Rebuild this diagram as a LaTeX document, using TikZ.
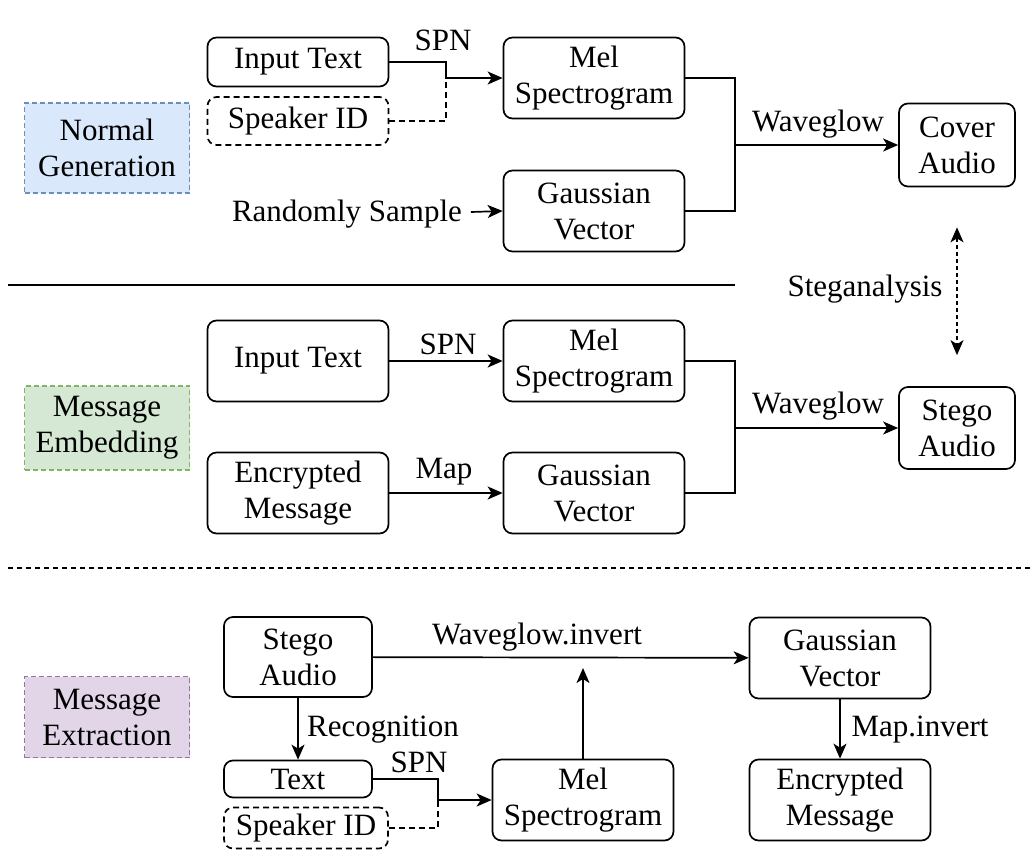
\documentclass[tikz,border=0pt]{standalone}
\usepackage{fontspec}
\setmainfont{Liberation Serif}
\usetikzlibrary{arrows.meta}
\definecolor{genfill}{HTML}{DAE8FC}
\definecolor{gendraw}{HTML}{6C8EBF}
\definecolor{embfill}{HTML}{D5E8D4}
\definecolor{embdraw}{HTML}{82B366}
\definecolor{extfill}{HTML}{E1D5E7}
\definecolor{extdraw}{HTML}{9673A6}

\begin{document}
\begin{tikzpicture}[x=1pt, y=-1pt, line width=1.7pt,
  font=\fontsize{31}{36}\selectfont,
  >={Stealth[length=15pt, width=13pt, inset=4pt]},
  main/.style = {draw, rounded corners=9pt, inner sep=0pt, align=center,
    minimum width=181pt, minimum height=81pt},
  side/.style = {main, dash pattern=on 6pt off 4pt},
  tag/.style = {draw=#1draw, fill=#1fill, line width=1.2pt, dash pattern=on 5pt off 3pt,
    inner sep=0pt, align=center, minimum width=165pt},
  lbl/.style = {inner sep=0pt}]
	\useasboundingbox (0,0) rectangle (1034,860);
	% normal generation
	\node[tag=gen, minimum height=90pt] (NG) at (107,148){Normal\\Generation};
	\node[main, minimum height=49pt] (IT1) at (298,62){Input Text};
	\node[side, minimum height=48pt] (SI1) at (298,121){Speaker ID};
	\node[main] (MS1) at (594,78){Mel\\Spectrogram};
	\node[main] (GV1) at (594,211){Gaussian\\Vector};
	\node[main, minimum width=116pt, minimum height=83pt] (CA) at (957,145){Cover\\Audio};
	\node[lbl] (RS) at (347,214){Randomly Sample};
	\coordinate (J1) at (446,78);
	\coordinate (W1) at (735,145);
	\draw[->] (IT1.east) -| (J1) -- (MS1.west);
	\draw[dash pattern=on 6pt off 4pt] (SI1.east) -| (J1);
	\draw[->] (RS.east) ++(8,-2) -- (GV1.west);
	\draw (MS1.east) -| (W1);
	\draw (GV1.east) -| (W1);
	\draw[->] (W1) -- (CA.west);
	\node[lbl] (SPN1) at (443,40){SPN};
	\node[lbl] (WG1) at (818,124){Waveglow};
	\coordinate (L1) at (8,285);
	\coordinate (L2) at (735,285);
	\draw[line width=1.2pt] (L1) -- (L2);
	% message embedding
	\node[tag=emb, minimum height=84pt] (ME) at (107,428){Message\\Embedding};
	\node[main] (IT2) at (298,361){Input Text};
	\node[main] (EM2) at (298,493){Encrypted\\Message};
	\node[main] (MS2) at (594,361){Mel\\Spectrogram};
	\node[main] (GV2) at (594,493){Gaussian\\Vector};
	\node[main, minimum width=116pt, minimum height=82pt] (SA2) at (957,428){Stego\\Audio};
	\coordinate (W2) at (735,428);
	\draw[->] (IT2) -- (MS2);
	\draw[->] (EM2) -- (GV2);
	\draw (MS2.east) -| (W2);
	\draw (GV2.east) -| (W2);
	\draw[->] (W2) -- (SA2.west);
	\node[lbl] (SPN2) at (448,344){SPN};
	\node[lbl] (MP2) at (444,472){Map};
	\node[lbl] (WG2) at (818,406){Waveglow};
	\draw[<->, line width=1.4pt, dash pattern=on 4pt off 3pt, shorten <=40pt, shorten >=31pt] (CA.south) -- (SA2.north);
	\node[lbl] (SG) at (865,289){Steganalysis};
	\coordinate (L3) at (8,568);
	\coordinate (L4) at (1034,568);
	\draw[line width=1.2pt, dash pattern=on 5pt off 4pt] (L3) -- (L4);
	% message extraction
	\node[tag=ext, minimum height=81pt] (MX) at (107,717){Message\\Extraction};
	\node[main, minimum width=148pt, minimum height=80pt] (SA3) at (298,657){Stego\\Audio};
	\node[main] (GV3) at (840,658){Gaussian\\Vector};
	\node[main] (MS3) at (583,800){Mel\\Spectrogram};
	\node[main] (EM3) at (840,800){Encrypted\\Message};
	\node[main, minimum width=148pt, minimum height=37pt] (TX) at (298,779){Text};
	\node[side, minimum width=164pt, minimum height=41pt] (SI3) at (306,828){Speaker ID};
	\coordinate (J3) at (438,800);
	\coordinate (UP) at (583,668);
	\draw[->] (SA3) -- (GV3);
	\draw[->] (SA3) -- (TX);
	\draw[->] (TX.east) -| (J3) -- (MS3.west);
	\draw[dash pattern=on 6pt off 4pt] (SI3.east) -| (J3);
	\draw[->] (MS3.north) -- (UP);
	\draw[->] (GV3) -- (EM3);
	\node[lbl] (WI) at (537,637){Waveglow.invert};
	\node[lbl] (RC) at (383,730){Recognition};
	\node[lbl] (SPN3) at (419,762){SPN};
	\node[lbl] (MI) at (920,730){Map.invert};
\end{tikzpicture}
\end{document}
